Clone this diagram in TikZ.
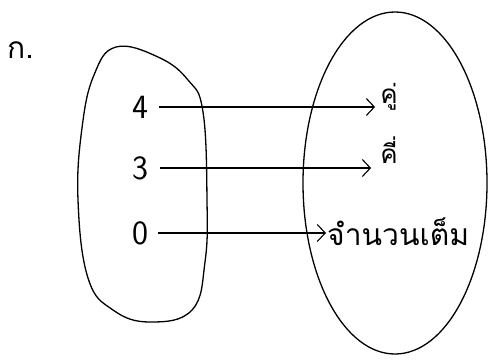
\documentclass[tikz,border=0pt]{standalone}
\usepackage{fontspec}
\newfontfamily\thaifont[Script=Thai]{Loma}
\usetikzlibrary{arrows.meta}
\begin{document}
\begin{tikzpicture}[x=1pt,y=-1pt,
  blob/.style={line width=1.3pt},
  maparrow/.style={line width=1.1pt,-{Straight Barb[length=8pt,width=17pt,line width=1.1pt]}},
  num/.style={font=\fontsize{34}{34}\selectfont\sffamily,inner sep=1pt},
  thai/.style={font=\thaifont\fontsize{30}{30}\selectfont,inner sep=1pt},
  thaiv/.style={font=\thaifont\fontsize{26}{26}\selectfont,inner sep=1pt}]
\useasboundingbox (0,0) rectangle (489,359);
\node[thai,anchor=west] (lbl) at (6,50) {ก.};
\draw[blob] plot[smooth cycle,tension=0.7] coordinates {(116,47) (158,57) (188,80) (203,112) (207,200) (205,262) (192,310) (150,322) (113,310) (88,278) (78,200) (82,128) (94,75)};
\draw[blob] (395,183) ellipse[x radius=92,y radius=171];
\node[num] (n4) at (140,107) {4};
\node[num] (n3) at (140,168) {3};
\node[num] (n0) at (140,233) {0};
\node[thaiv] (even) at (389,97) {คู่};
\node[thaiv] (odd) at (389,150) {คี่};
\node[thai,anchor=west] (int) at (326,232) {จำนวนเต็ม};
\draw[maparrow] ([xshift=10pt]n4.east) -- ([xshift=-4pt]even.west |- n4.east);
\draw[maparrow] ([xshift=11pt]n3.east) -- ([xshift=-8pt]odd.west |- n3.east);
\draw[maparrow] ([xshift=9pt]n0.east) -- (int.west |- n0.east);
\end{tikzpicture}
\end{document}
